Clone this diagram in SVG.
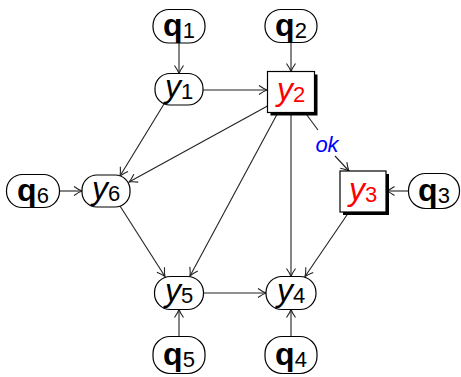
<svg xmlns="http://www.w3.org/2000/svg" width="461" height="377" viewBox="0 0 461 377">
<defs>
<style>
.n{fill:#fff;stroke:#000;stroke-width:1.2}
.sh{fill:#000}
.e{fill:none;stroke:#222;stroke-width:1.1}
.q{font-family:"Liberation Sans","DejaVu Sans",sans-serif;font-size:32px;font-weight:bold;text-anchor:middle;fill:#000}
.y{font-family:"Liberation Sans","DejaVu Sans",sans-serif;font-size:32px;font-style:italic;text-anchor:middle;fill:#000}
.r{fill:#ff0000}
.s{font-size:22px;font-weight:normal;font-style:normal}
.ok{font-family:"Liberation Sans","DejaVu Sans",sans-serif;font-size:22px;font-style:italic;fill:#0000ff;text-anchor:middle}
</style>
<marker id="a" viewBox="-10 -6 12 12" refX="0" refY="0" markerWidth="12" markerHeight="12" markerUnits="userSpaceOnUse" orient="auto">
<path d="M-8,-4.5 Q-3,-1 0,0 Q-3,1 -8,4.5" fill="none" stroke="#222" stroke-width="1.1"/>
</marker>
</defs>
<g id="edges">
<line class="e" x1="179" y1="43" x2="179" y2="73.5" marker-end="url(#a)"/>
<line class="e" x1="291" y1="42.5" x2="291" y2="71.5" marker-end="url(#a)"/>
<line class="e" x1="203" y1="90" x2="267" y2="90" marker-end="url(#a)"/>
<line class="e" x1="164" y1="104" x2="120" y2="176" marker-end="url(#a)"/>
<line class="e" x1="267.5" y1="106" x2="129" y2="182" marker-end="url(#a)"/>
<line class="e" x1="278" y1="112.5" x2="190" y2="276" marker-end="url(#a)"/>
<line class="e" x1="291" y1="112.5" x2="291" y2="276.5" marker-end="url(#a)"/>
<line class="e" x1="305" y1="112.5" x2="318" y2="130"/>
<line class="e" x1="335" y1="156" x2="349" y2="171" marker-end="url(#a)"/>
<text class="ok" x="327" y="152">ok</text>
<line class="e" x1="408.5" y1="191" x2="386.5" y2="191" marker-end="url(#a)"/>
<line class="e" x1="59.5" y1="191" x2="82" y2="191" marker-end="url(#a)"/>
<line class="e" x1="120" y1="206" x2="165" y2="276.5" marker-end="url(#a)"/>
<line class="e" x1="349" y1="212" x2="305" y2="276.5" marker-end="url(#a)"/>
<line class="e" x1="203.5" y1="293" x2="266" y2="293" marker-end="url(#a)"/>
<line class="e" x1="179" y1="336.5" x2="179" y2="309.5" marker-end="url(#a)"/>
<line class="e" x1="291" y1="336.5" x2="291" y2="309.5" marker-end="url(#a)"/>
</g>
<g id="q1"><rect class="n" x="153" y="9.5" width="52" height="33.5" rx="16"/><text class="q" x="179" y="36">q<tspan class="s" dy="2">1</tspan></text></g>
<g id="q2"><rect class="n" x="265" y="9.5" width="52" height="33" rx="16"/><text class="q" x="291" y="36">q<tspan class="s" dy="2">2</tspan></text></g>
<g id="y1"><rect class="n" x="155" y="73.5" width="48" height="31.5" rx="15"/><text class="y" x="179" y="97">y<tspan class="s" dy="2">1</tspan></text></g>
<g id="y2"><rect class="sh" x="270.5" y="74.5" width="47" height="41"/><rect class="n" x="267.5" y="71.5" width="47" height="41"/><text class="y r" x="291" y="100">y<tspan class="s" dy="2">2</tspan></text></g>
<g id="q6"><rect class="n" x="6.5" y="174.5" width="53" height="33" rx="16"/><text class="q" x="33" y="201">q<tspan class="s" dy="2">6</tspan></text></g>
<g id="y6"><rect class="n" x="82" y="175" width="48" height="32" rx="15"/><text class="y" x="106" y="199">y<tspan class="s" dy="2">6</tspan></text></g>
<g id="y3"><rect class="sh" x="343" y="174" width="46" height="41"/><rect class="n" x="340" y="171" width="46" height="41"/><text class="y r" x="363" y="200">y<tspan class="s" dy="2">3</tspan></text></g>
<g id="q3"><rect class="n" x="408.5" y="173.5" width="51" height="35" rx="17"/><text class="q" x="434" y="201">q<tspan class="s" dy="2">3</tspan></text></g>
<g id="y5"><rect class="n" x="154.5" y="276.5" width="49" height="33" rx="16"/><text class="y" x="179" y="301">y<tspan class="s" dy="2">5</tspan></text></g>
<g id="y4"><rect class="n" x="266" y="276.5" width="50" height="33" rx="16"/><text class="y" x="291" y="301">y<tspan class="s" dy="2">4</tspan></text></g>
<g id="q5"><rect class="n" x="153" y="336.5" width="52" height="37" rx="17"/><text class="q" x="179" y="365">q<tspan class="s" dy="2">5</tspan></text></g>
<g id="q4"><rect class="n" x="265" y="336.5" width="52" height="37" rx="17"/><text class="q" x="291" y="365">q<tspan class="s" dy="2">4</tspan></text></g>
</svg>
